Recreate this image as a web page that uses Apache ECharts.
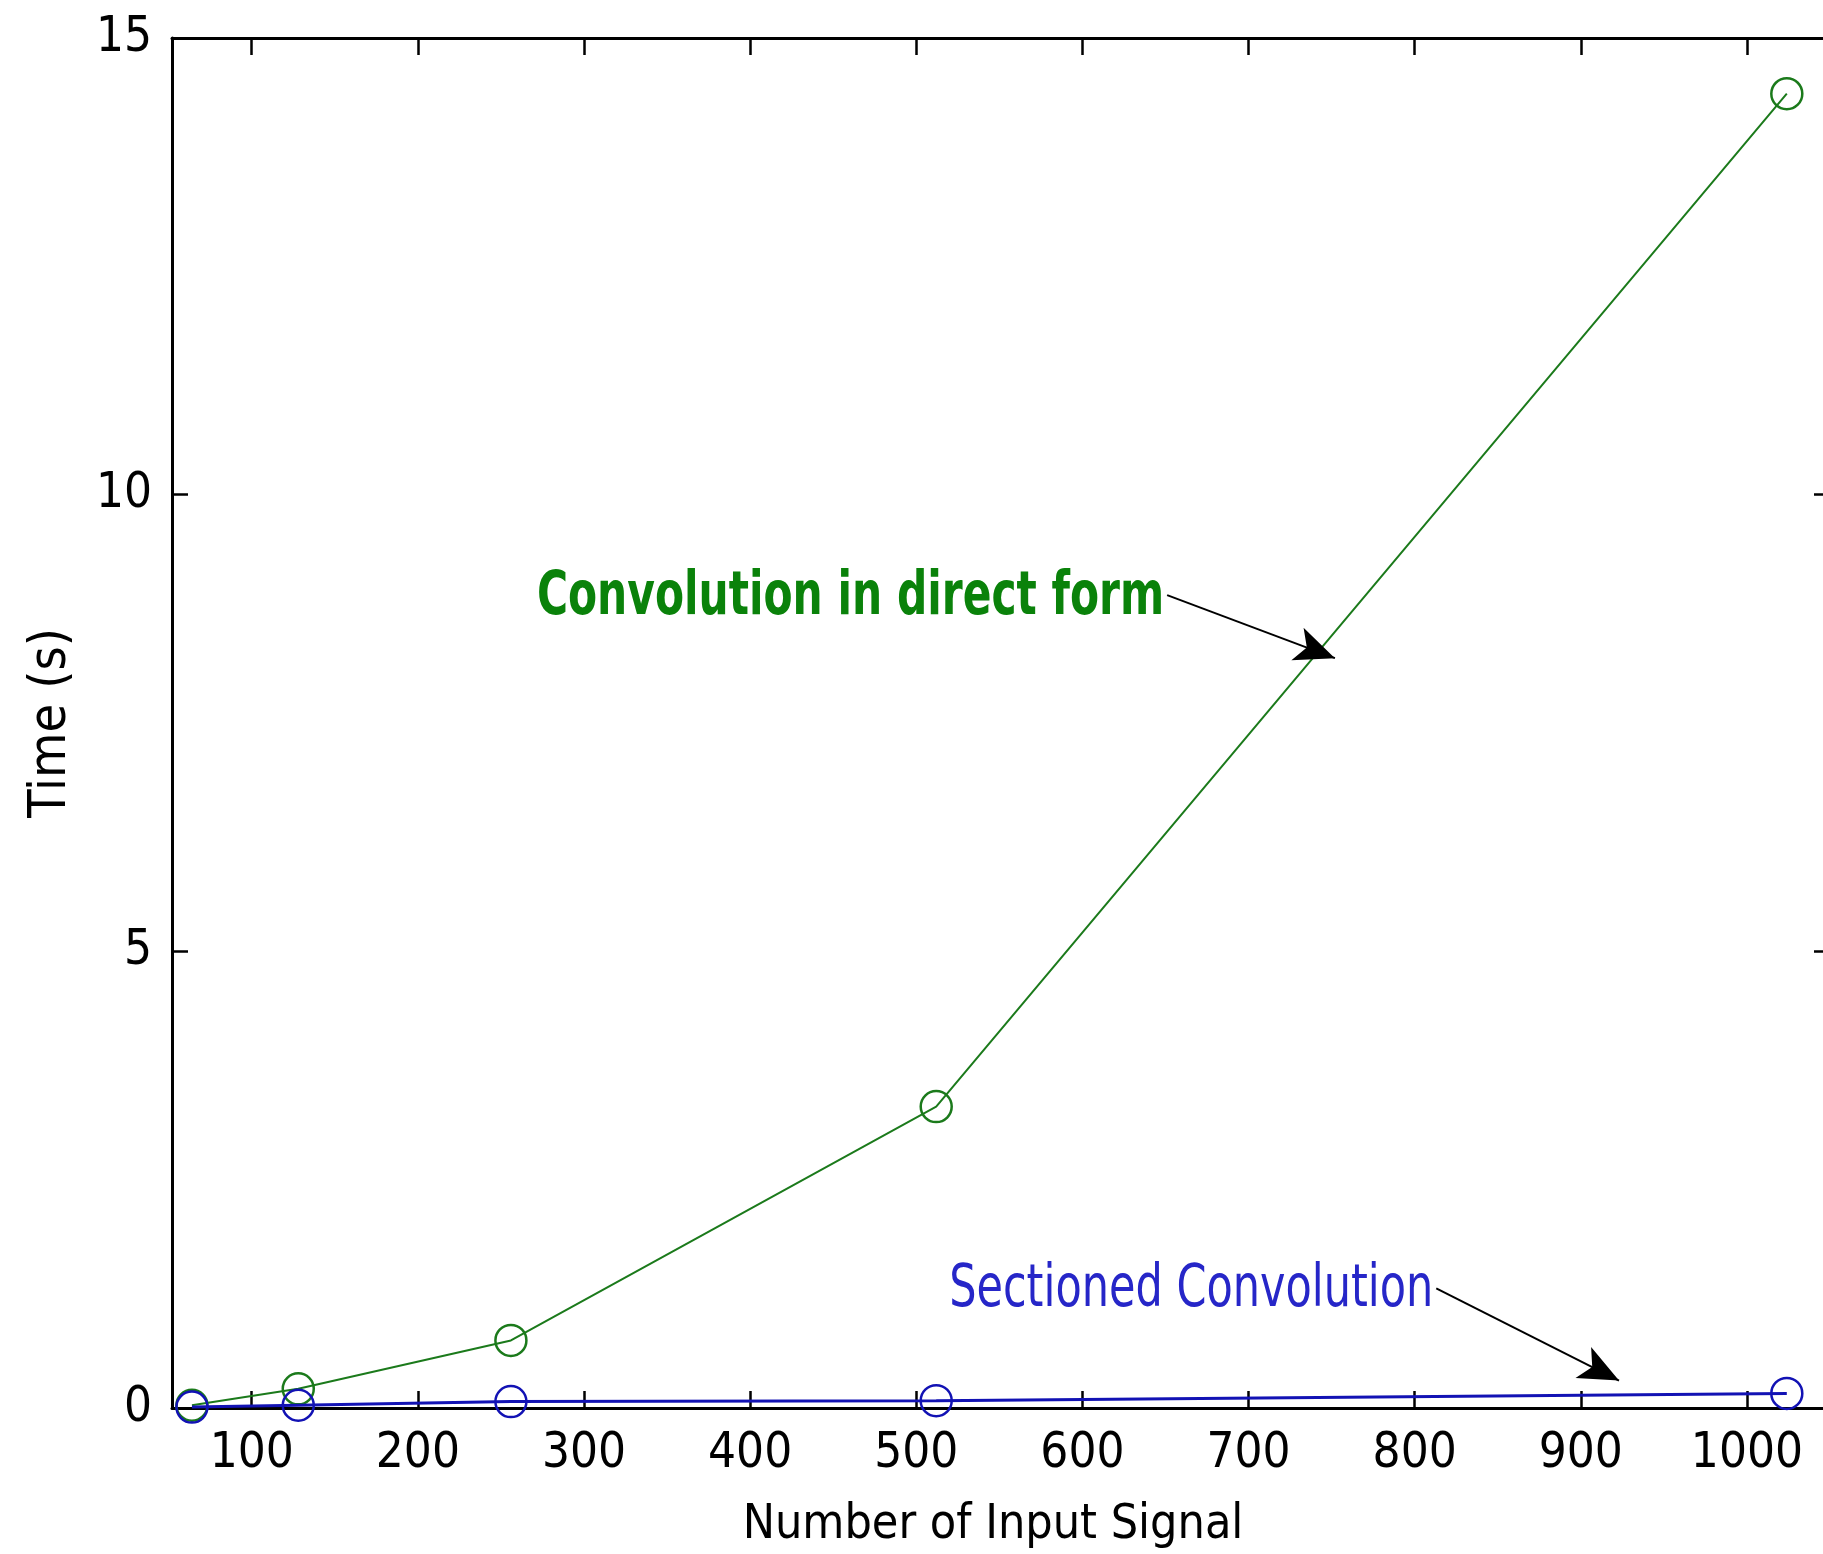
<!DOCTYPE html>
<html>
<head>
<meta charset="utf-8">
<title>Convolution timing</title>
<script src="https://cdn.jsdelivr.net/npm/echarts@6/dist/echarts.min.js"></script>
<style>
  html, body { margin: 0; padding: 0; background: #ffffff; }
  #chart { width: 1823px; height: 1554px; }
</style>
</head>
<body>
<div id="chart"></div>
<script>
// Signal lengths tested and measured run times (seconds)
const inputLengths = [64, 128, 256, 512, 1024];
const directTime = [0.03, 0.21, 0.74, 3.30, 14.39];
const sectionedTime = [0.01, 0.03, 0.07, 0.08, 0.16];

// Tick positions
const xTicks = [100, 200, 300, 400, 500, 600, 700, 800, 900, 1000];
const yTicks = [0, 5, 10, 15];

// Annotation anchors in data coordinates: text end / arrow tail, arrow tip
const directNoteFrom = [651, 8.90];
const directNoteTip = [752, 8.21];
const sectionedNoteFrom = [813, 1.31];
const sectionedNoteTip = [923, 0.30];

const FONT = "'DejaVu Sans Condensed', 'Liberation Sans', sans-serif";
const GREEN = '#1b7a1b';
const BLUE = '#1212b4';
const GREEN_TEXT = '#0a820a';
const BLUE_TEXT = '#2626c8';

function pairs(xs, ys) {
  return xs.map((x, i) => [x, ys[i]]);
}

// Arrow from the end of a caption to the point it refers to
function arrow(from, tip) {
  return {
    silent: true,
    animation: false,
    symbol: ['none', 'arrow'],
    symbolSize: [26, 40],
    label: { show: false },
    lineStyle: { color: '#000', width: 2, type: 'solid' },
    data: [[{ coord: from }, { coord: tip }]]
  };
}

const axisLineStyle = { color: '#000', width: 3 };
const tickStyle = { color: '#000', width: 2.5 };
const plainNumber = v => String(v);

const chart = echarts.init(document.getElementById('chart'), null, { renderer: 'canvas' });

chart.setOption({
  animation: false,
  backgroundColor: '#ffffff',
  grid: {
    left: 172,
    top: 38,
    width: 1658,
    height: 1370,
    outerBoundsMode: 'none',
    containLabel: false
  },
  xAxis: [
    {
      type: 'value',
      min: 52,
      max: 1050,
      position: 'bottom',
      name: 'Number of Input Signal',
      nameLocation: 'middle',
      nameGap: 94,
      nameTextStyle: { fontFamily: FONT, fontSize: 48, color: '#000', padding: [0, 16, 0, 0] },
      axisLine: { show: true, onZero: false, lineStyle: axisLineStyle },
      axisTick: { show: true, inside: true, length: 17, customValues: xTicks, lineStyle: tickStyle },
      axisLabel: { show: true, customValues: xTicks, formatter: plainNumber, margin: 22, fontFamily: FONT, fontSize: 49, color: '#000' },
      splitLine: { show: false }
    },
    {
      type: 'value',
      min: 52,
      max: 1050,
      position: 'top',
      axisLine: { show: true, onZero: false, lineStyle: axisLineStyle },
      axisTick: { show: true, inside: true, length: 17, customValues: xTicks, lineStyle: tickStyle },
      axisLabel: { show: false },
      splitLine: { show: false }
    }
  ],
  yAxis: [
    {
      type: 'value',
      min: 0,
      max: 15,
      interval: 5,
      position: 'left',
      name: 'Time (s)',
      nameLocation: 'middle',
      nameGap: 95,
      nameTextStyle: { fontFamily: FONT, fontSize: 52, color: '#000' },
      axisLine: { show: true, onZero: false, lineStyle: axisLineStyle },
      axisTick: { show: true, inside: true, length: 16, customValues: yTicks, lineStyle: tickStyle },
      axisLabel: { show: true, customValues: yTicks, formatter: plainNumber, margin: 20, fontFamily: FONT, fontSize: 49, color: '#000' },
      splitLine: { show: false }
    },
    {
      type: 'value',
      min: 0,
      max: 15,
      interval: 5,
      position: 'right',
      axisLine: { show: true, onZero: false, lineStyle: axisLineStyle },
      axisTick: { show: true, inside: true, length: 16, customValues: yTicks, lineStyle: tickStyle },
      axisLabel: { show: false },
      splitLine: { show: false }
    }
  ],
  series: [
    {
      name: 'Convolution in direct form',
      type: 'line',
      xAxisIndex: 0,
      yAxisIndex: 0,
      data: pairs(inputLengths, directTime),
      symbol: 'circle',
      symbolSize: 31,
      showSymbol: true,
      lineStyle: { color: GREEN, width: 2 },
      itemStyle: { color: 'rgba(0,0,0,0)', borderColor: GREEN, borderWidth: 2.5 },
      markLine: arrow(directNoteFrom, directNoteTip),
      z: 2
    },
    {
      name: 'Sectioned Convolution',
      type: 'line',
      xAxisIndex: 0,
      yAxisIndex: 0,
      data: pairs(inputLengths, sectionedTime),
      symbol: 'circle',
      symbolSize: 31,
      showSymbol: true,
      lineStyle: { color: BLUE, width: 3 },
      itemStyle: { color: 'rgba(0,0,0,0)', borderColor: BLUE, borderWidth: 2.5 },
      markLine: arrow(sectionedNoteFrom, sectionedNoteTip),
      z: 3
    }
  ]
});

// Captions sit just left of each arrow tail; narrowed horizontally to suit the condensed plot lettering
function caption(text, anchor, color, weight, size, squeeze) {
  const p = chart.convertToPixel({ xAxisIndex: 0, yAxisIndex: 0 }, anchor);
  return {
    type: 'text',
    x: p[0] - 3,
    y: p[1] + 3,
    scaleX: squeeze,
    silent: true,
    z: 10,
    style: {
      text: text,
      fill: color,
      font: weight + ' ' + size + 'px ' + FONT,
      align: 'right',
      verticalAlign: 'middle'
    }
  };
}

chart.setOption({
  graphic: [
    caption('Convolution in direct form', directNoteFrom, GREEN_TEXT, 'bold', 60, 0.785),
    caption('Sectioned Convolution', sectionedNoteFrom, BLUE_TEXT, 'normal', 58, 0.824)
  ]
});
</script>
</body>
</html>
